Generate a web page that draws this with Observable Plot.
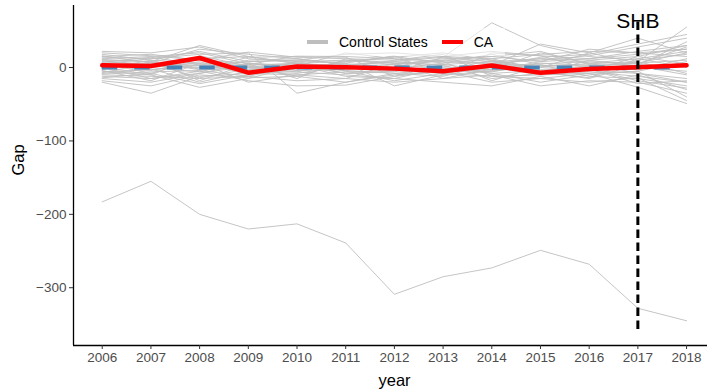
<!DOCTYPE html>
<html>
<head>
<meta charset="utf-8">
<script src="https://cdn.jsdelivr.net/npm/d3@7"></script>
<script src="https://cdn.jsdelivr.net/npm/@observablehq/plot@0.6"></script>
<style>
  html, body { margin: 0; padding: 0; background: #fff; }
  #chart { position: relative; width: 707px; height: 392px; font-family: "Liberation Sans", Arial, Helvetica, sans-serif; }
  #legend { position: absolute; left: 295px; top: 28px; width: 210px; height: 28px;
            background: rgba(255,255,255,0.55); display: flex; align-items: center;
            font-size: 14px; color: #000; }
  #legend .key { display: inline-block; width: 21px; height: 4px; margin-left: 12px; margin-right: 11px; }
</style>
</head>
<body>
<div id="chart"></div>
<script>
// Years covered by the gap series
const years = [2006, 2007, 2008, 2009, 2010, 2011, 2012, 2013, 2014, 2015, 2016, 2017, 2018];

// Treated state (CA): gap between actual and synthetic outcome
const caGap = [3, 2, 13, -7, 1.5, 0.5, -1.5, -5, 2.7, -7, -2, 0.5, 3];

// Placebo gaps for the control states (one array per state)
const controlGaps = [
  [22, 20, 28, 12, 8, 10, 6, 4, 8, 12, 10, 15, 30],
  [15, 18, 10, 21, 14, 12, 10, 15, 12, 18, 22, 20, 25],
  [-20, -35, -12, -8, -10, -6, -4, -8, -12, -10, -6, -12, -20],
  [10, 8, 30, 15, 5, 3, 8, 14, 61, 30, 15, 10, 18],
  [-5, -10, -27, -15, 2, 5, 0, -5, -3, 0, -4, -8, -15],
  [5, 12, 18, 20, -35, -20, -10, -5, 0, 5, 8, 5, 28],
  [0, 5, 2, 8, 10, 6, -25, -10, -5, 2, 5, 8, 55],
  [-12, -15, -5, -18, -25, -24, -12, -5, -20, -15, -8, -27, -49],
  [8, 3, 5, -3, 0, 2, 4, -2, 3, 32, 20, 40, 20],
  [-8, -2, -20, -5, -6, -10, -15, -20, -25, -12, -25, -10, -30],
  [18, 10, 6, 4, 16, 15, 12, 8, 5, 3, 2, 6, 10],
  [-15, -20, -8, 2, -4, -3, 5, 10, 15, 8, 25, 20, 15],
  [3, -4, 8, -10, -2, 8, 14, 20, 10, -5, 0, 8, -8],
  [12, 15, 20, 5, 3, -8, -5, 2, -8, -20, -10, -5, -40],
  [-3, 7, -3, 0, 4, -4, -8, -12, 5, 12, 6, 12, 22],
  [6, -8, 12, 15, 6, 0, -2, 6, 18, 4, -12, -15, -25],
  [-10, -12, -15, -12, -18, -15, -20, -15, -10, -25, -18, -20, -35],
  [14, 12, 22, 8, 10, 18, 20, 15, 22, 16, 12, 22, 30],
  [-6, -3, 3, -6, -8, 2, 0, -3, -6, 6, 3, -3, 12],
  [2, 0, -6, 10, 12, 4, 8, 3, -15, -8, 10, 2, -10],
  [-18, -25, -10, -14, -12, -20, -8, -2, 4, -6, -15, 4, 2],
  [9, 4, 14, -4, 2, -2, 2, 10, 6, 10, 16, 28, 40],
  [-2, 10, -18, 5, -15, 12, 6, -15, -2, 20, 6, -8, -20],
  [4, 2, 0, 3, 6, 8, 15, 6, 12, -3, -5, 15, 5],
  [-9, -6, -4, -12, 3, -12, -15, 0, -8, -4, 2, 0, -5],
  [16, 6, 25, 18, 12, 4, -4, -6, 2, 14, 18, 32, 45],
  [0, -15, -8, 6, -4, 0, 10, 18, -12, -15, -20, -14, -45],
  [7, 14, 4, 0, -6, 10, 4, 12, 15, 22, 4, 3, 35],
  [-14, -8, -22, -10, 8, -5, -18, -8, 0, -10, -8, -5, 8],
  [11, 8, -2, 14, 15, 14, -12, 4, -4, 8, 12, 18, 25],
  [-4, -18, 6, -20, -10, -15, 6, 8, -18, 2, -2, -18, -28],
  [20, 16, 10, 6, 2, 20, 12, -4, 10, 0, 20, 6, 20],
  [-7, 6, -14, -2, 6, -8, -6, 14, 8, -6, -14, 12, 0],
  [1, -10, 16, 2, -12, 6, 16, -10, 20, 16, -2, -22, -18],
  [-183, -155, -200, -220, -213, -239, -309, -285, -273, -249, -268, -328, -345]
];

// Synthetic reference (zero gap) and the policy marker
const referenceGap = 0;
const policyYear = 2017;
const policyLabel = "SHB";
const policySpan = [-357, 62];
const policyLabelY = 63;

const yTicks = [0, -100, -200, -300];
const xDomain = [2005.41, 2018.43];
const yDomain = [-378.7, 84.5];

const controlRows = controlGaps.flatMap((g, i) => g.map((v, j) => ({state: i, year: years[j], gap: v})));
const caRows = caGap.map((v, j) => ({year: years[j], gap: v}));

const font = '"Liberation Sans", Arial, Helvetica, sans-serif';

const chart = Plot.plot({
  width: 707,
  height: 392,
  marginLeft: 73,
  marginRight: 0,
  marginTop: 5,
  marginBottom: 47,
  style: {fontFamily: font, background: "#fff", overflow: "visible"},
  x: {domain: xDomain, label: null},
  y: {domain: yDomain, label: null},
  marks: [
    Plot.line(controlRows, {x: "year", y: "gap", z: "state", stroke: "#BEBEBE", strokeWidth: 0.9}),
    Plot.ruleY([referenceGap], {x1: years[0], x2: years[years.length - 1], stroke: "#4682B4", strokeWidth: 4, strokeDasharray: "15.5,17"}),
    Plot.line(caRows, {x: "year", y: "gap", stroke: "#FF0000", strokeWidth: 4.5, strokeLinejoin: "miter"}),
    Plot.ruleX([policyYear], {y1: policySpan[0], y2: policySpan[1], stroke: "#000", strokeWidth: 3, strokeDasharray: "8.5,4.5"}),
    Plot.text([policyLabel], {x: policyYear, y: policyLabelY, text: d => d, fontSize: 21, fill: "#000", lineAnchor: "middle"}),
    Plot.ruleX([xDomain[0]], {stroke: "#000", strokeWidth: 1.3}),
    Plot.ruleY([yDomain[0]], {stroke: "#000", strokeWidth: 1.3}),
    Plot.axisX({ticks: years, tickFormat: d => String(d), tickSize: 4, tickPadding: 3, fontSize: 13.5, stroke: "#333", color: "#4D4D4D", label: null}),
    Plot.axisY({ticks: yTicks, tickFormat: d => d < 0 ? "\u2212" + Math.abs(d) : String(d), tickSize: 4, tickPadding: 3, fontSize: 13.5, stroke: "#333", color: "#4D4D4D", label: null}),
    Plot.text(["year"], {frameAnchor: "bottom", dy: 35, text: d => d, fontSize: 16.5, fill: "#000", lineAnchor: "middle", dx: 4}),
    Plot.text(["Gap"], {frameAnchor: "left", dx: -55, text: d => d, fontSize: 16.5, fill: "#000", rotate: -90})
  ]
});

const root = document.getElementById("chart");
root.appendChild(chart);

const legend = document.createElement("div");
legend.id = "legend";
legend.innerHTML =
  '<span class="key" style="background:#BEBEBE"></span><span>Control States</span>' +
  '<span class="key" style="background:#FF0000;margin-left:14px"></span><span>CA</span>';
root.appendChild(legend);
</script>
</body>
</html>
